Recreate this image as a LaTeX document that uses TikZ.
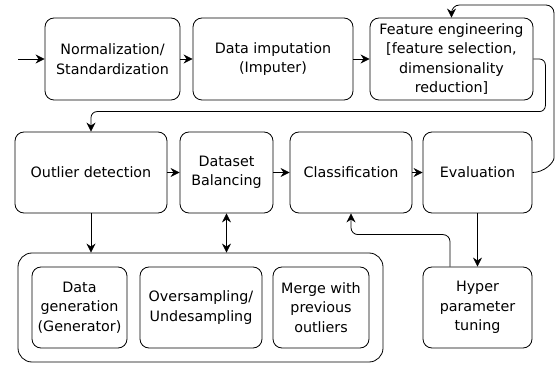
\documentclass[tikz,border=0pt]{standalone}
\usepackage{fontspec}
\setmainfont{DejaVu Sans}
\usetikzlibrary{arrows.meta,calc}
\begin{document}
\begin{tikzpicture}[x=1pt,y=-1pt,
  box/.style={draw,line width=0.8pt,rounded corners=9pt,align=center,inner sep=1pt,
    font=\fontsize{14.3}{19.5}\selectfont,minimum height=82pt},
  conn/.style={line width=0.8pt,-{Stealth[length=9pt,width=9pt]}},
  dconn/.style={line width=0.8pt,{Stealth[length=9pt,width=9pt]}-{Stealth[length=9pt,width=9pt]}}]
\useasboundingbox (0,0) rectangle (557,366);
% top row
\node[box,minimum width=135pt] (norm) at (112.5,59) {Normalization/\\Standardization};
\node[box,minimum width=160pt] (imp) at (273,59) {Data imputation\\(Imputer)};
\node[box,minimum width=163pt] (feat) at (451.5,59) {Feature engineering\\{}[feature selection,\\dimensionality\\reduction]};
% middle row
\node[box,minimum width=152pt,minimum height=81pt] (outl) at (91,172.5) {Outlier detection};
\node[box,minimum width=93pt,minimum height=81pt] (bal) at (226.5,172.5) {Dataset\\Balancing};
\node[box,minimum width=122pt,minimum height=81pt] (cls) at (351,172.5) {Classification};
\node[box,minimum width=109pt,minimum height=81pt] (eval) at (477.5,172.5) {Evaluation};
% bottom
\node[box,minimum width=365pt,minimum height=109pt,rounded corners=14pt] (outer) at (200.5,307.5) {};
\node[box,minimum width=95pt,minimum height=81pt] (gen) at (79.5,307.5) {Data\\generation\\(Generator)};
\node[box,minimum width=122pt,minimum height=81pt] (ovs) at (201,307.5) {Oversampling/\\Undesampling};
\node[box,minimum width=96pt,minimum height=81pt] (merge) at (321,307.5) {Merge with\\previous\\outliers};
\node[box,minimum width=109pt,minimum height=81pt] (hyp) at (477.5,307.5) {Hyper\\parameter\\tuning};
% connectors
\coordinate (in) at (18,59);
\draw[conn] (in) -- (norm.west);
\draw[conn] (norm) -- (imp);
\draw[conn] (imp) -- (feat);
\draw[conn] (outl) -- (bal);
\draw[conn] (bal) -- (cls);
\draw[conn] (cls) -- (eval);
\draw[conn,rounded corners=6pt] (feat.east) -- ++(12,0) |- ($(outl.north)+(0,-20)$) -- (outl.north);
\draw[conn,rounded corners=8pt] (eval.east) to[out=0,in=-90] (554,150) -- (554,5) -| (feat.north);
\draw[conn] (outl.south) -- (outl.south |- outer.north);
\draw[dconn] (bal.south) -- (bal.south |- outer.north);
\draw[conn] (eval.south) -- (hyp.north);
\draw[conn,rounded corners=7pt] ($(hyp.north)+(-27.5,0)$) -- ++(0,-32) -| (cls.south);
\end{tikzpicture}
\end{document}
